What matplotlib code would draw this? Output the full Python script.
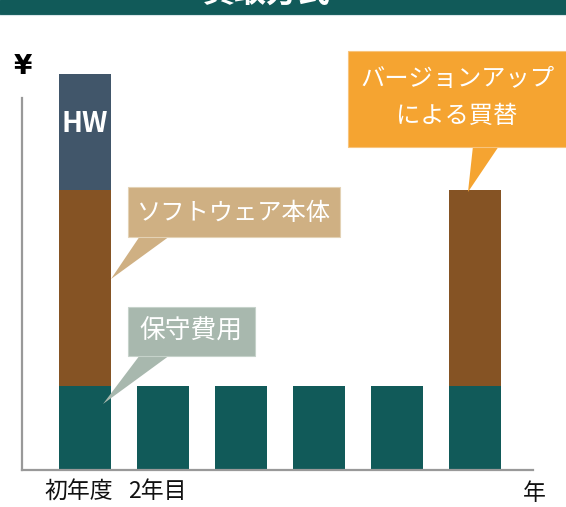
import matplotlib
matplotlib.use("Agg")
import matplotlib.pyplot as plt
import matplotlib.transforms as mtransforms
from matplotlib.patches import Rectangle, Polygon

plt.rcParams['font.family'] = ['Noto Sans CJK JP', 'DejaVu Sans']

# data (arbitrary cost units)
years = ['初年度', '2年目', '', '', '', '']
maintenance = [2.1, 2.1, 2.1, 2.1, 2.1, 2.1]
software = [4.9, 0, 0, 0, 0, 4.9]
hardware = [2.9, 0, 0, 0, 0, 0]

teal = '#115a59'
brown = '#855324'
slate = '#41566a'

W, H = 566, 507
fig = plt.figure(figsize=(W / 100, H / 100), dpi=100)

# main chart axes (pixel box: x 22..533, y 98..470)
ax = fig.add_axes([22 / W, (H - 470) / H, (533 - 22) / W, (470 - 98) / H])
x = list(range(len(years)))
bot2 = [m + s for m, s in zip(maintenance, software)]
ax.bar(x, maintenance, width=0.667, color=teal, clip_on=False, zorder=2)
ax.bar(x, software, width=0.667, bottom=maintenance, color=brown, clip_on=False, zorder=2)
ax.bar(x, hardware, width=0.667, bottom=bot2, color=slate, clip_on=False, zorder=2)
ax.text(0, maintenance[0] + software[0] + hardware[0] * 0.57, 'HW', color='white',
        fontsize=20, fontweight='bold', ha='center', va='center', zorder=3)

ax.set_xlim(-0.808, 5.744)
ax.set_ylim(0, 9.3)
for s in ['top', 'right']:
    ax.spines[s].set_visible(False)
for s in ['left', 'bottom']:
    ax.spines[s].set_color('#999999')
    ax.spines[s].set_linewidth(1.6)
    ax.spines[s].set_zorder(3)
ax.set_yticks([])
ax.set_xticks(x)
ax.set_xticklabels(years, fontsize=16.5, color='#111111')
ax.tick_params(axis='x', length=0, pad=7)
shift = mtransforms.ScaledTranslation(-6 / 100, 0, fig.dpi_scale_trans)
for lab in ax.get_xticklabels():
    lab.set_transform(lab.get_transform() + shift)

# overlay in pixel coordinates for decorations
ov = fig.add_axes([0, 0, 1, 1], zorder=5)
ov.set_xlim(0, W)
ov.set_ylim(H, 0)
ov.axis('off')

# title bar (cut off at the top)
ov.add_patch(Rectangle((0, 0), W, 14, color=teal))
ov.plot([0, W], [14.5, 14.5], color='#d9e6ea', lw=0.8)
ov.text(267, 2, '買取方式', color='white', fontsize=23, fontweight='bold',
        ha='center', va='baseline')

ov.text(23, 67, '¥', fontsize=19, fontweight='bold', ha='center', va='center',
        family='DejaVu Sans')
ov.text(534, 493, '年', fontsize=16.5, color='#111111', ha='center', va='center')


def callout(x0, y0, x1, y1, tail, color, edge):
    ov.add_patch(Polygon(tail, closed=True, color=color, lw=0))
    ov.add_patch(Rectangle((x0, y0), x1 - x0, y1 - y0, facecolor=color,
                           edgecolor=edge, lw=0.8))


callout(128, 187, 340, 237, [(140, 236), (170, 236), (111, 279)], '#cfb083', '#e3d2b5')
ov.text(234, 213, 'ソフトウェア本体', color='white', fontsize=17.5, ha='center', va='center')

callout(128, 307, 255, 356, [(140, 355), (170, 355), (103, 404)], '#a8b8ae', '#c6d2ca')
ov.text(191, 332, '保守費用', color='white', fontsize=18.5, ha='center', va='center')

callout(348, 51, 570, 147, [(473, 146), (499, 146), (468, 192)], '#f5a431', '#f8c47c')
ov.text(457, 79, 'バージョンアップ', color='white', fontsize=17.5, ha='center', va='center')
ov.text(457, 116, 'による買替', color='white', fontsize=17.5, ha='center', va='center')

fig.savefig('out.png', dpi=100)
